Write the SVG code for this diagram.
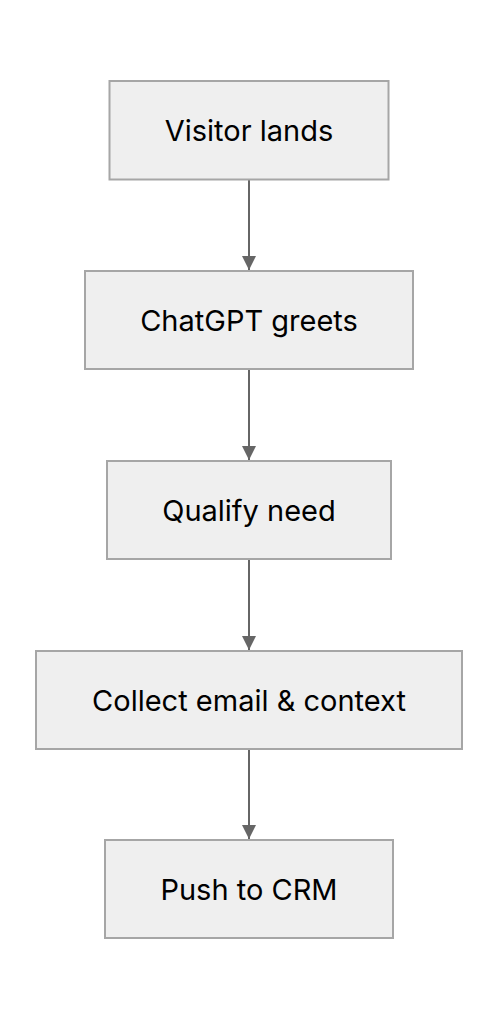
<svg xmlns="http://www.w3.org/2000/svg" width="498" height="1020" viewBox="0 0 498 1020">
<style>
.box{fill:#efefef;stroke:#a6a6a6;stroke-width:2}
.lbl{font-family:Inter,"Liberation Sans",sans-serif;font-size:29px;fill:#000;text-anchor:middle}
.edge{stroke:#666;stroke-width:2;fill:none}
</style>
<defs>
<marker id="arr" viewBox="0 0 14 14" refX="14" refY="7" markerWidth="14" markerHeight="14" markerUnits="userSpaceOnUse" orient="auto">
<path d="M0,0 L14,7 L0,14 z" fill="#666"/>
</marker>
</defs>
<rect width="498" height="1020" fill="#fff"/>
<g id="connectors">
<line class="edge" x1="249" y1="180" x2="249" y2="270" marker-end="url(#arr)"/>
<line class="edge" x1="249" y1="369" x2="249" y2="460" marker-end="url(#arr)"/>
<line class="edge" x1="249" y1="559" x2="249" y2="650" marker-end="url(#arr)"/>
<line class="edge" x1="249" y1="749" x2="249" y2="839" marker-end="url(#arr)"/>
</g>
<g id="n1"><rect class="box" x="109.5" y="81" width="279" height="98.5"/><text class="lbl" x="249" y="140.5">Visitor lands</text></g>
<g id="n2"><rect class="box" x="85" y="271" width="328" height="98"/><text class="lbl" x="249" y="330.5">ChatGPT greets</text></g>
<g id="n3"><rect class="box" x="107" y="461" width="284" height="98"/><text class="lbl" x="249" y="520.5">Qualify need</text></g>
<g id="n4"><rect class="box" x="36" y="651" width="426" height="98"/><text class="lbl" x="249" y="710.5">Collect email &amp; context</text></g>
<g id="n5"><rect class="box" x="105" y="840" width="288" height="98"/><text class="lbl" x="249" y="899.5">Push to CRM</text></g>
</svg>
